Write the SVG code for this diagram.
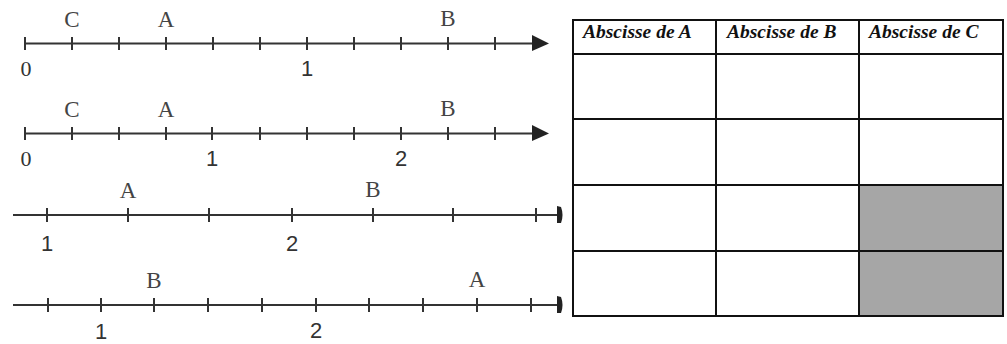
<svg xmlns="http://www.w3.org/2000/svg" width="1007" height="344" viewBox="0 0 1007 344">
<style>
.axis{stroke:#333;stroke-width:2.2;fill:none}
.tick{stroke:#333;stroke-width:2;fill:none}
.lbl{font-family:"Liberation Serif",serif;font-size:23px;fill:#444;text-anchor:middle}
.num{font-family:"Liberation Sans",sans-serif;font-size:22px;fill:#333;text-anchor:middle}
.zero{font-family:"Liberation Serif",serif;font-size:22px;fill:#333;text-anchor:middle}
.hd{font-family:"Liberation Serif",serif;font-size:19.5px;font-weight:bold;font-style:italic;fill:#111}
.cell{fill:#fff;stroke:#111;stroke-width:2}
.gray{fill:#a6a6a6;stroke:#111;stroke-width:2}
</style>
<rect width="1007" height="344" fill="#fff"/>
<g id="connectors">
<path class="axis" d="M25 43.5H536"/>
<polygon points="532,35 549,43.5 532,51" fill="#222"/>
<path class="axis" d="M25 133.5H536"/>
<polygon points="532,125 549,133.5 532,141" fill="#222"/>
<path class="axis" d="M13 215H558"/>
<path d="M557 206 L561 207 Q564 215 561 223 L557 223 Z" fill="#222"/>
<path class="axis" d="M13 305H558"/>
<path d="M557 296 L561 297 Q564 305 561 313 L557 313 Z" fill="#222"/>
</g>
<g id="line1">
<path class="tick" d="M25 37V50M72 37V50M119 37V50M166 37V50M213 37V50M260 37V50M307 37V50M354 37V50M401 37V50M448 37V50M495 37V50"/>
<text class="lbl" x="72" y="27">C</text>
<text class="lbl" x="166" y="27">A</text>
<text class="lbl" x="448" y="26">B</text>
<text class="zero" x="26" y="76">0</text>
<text class="num" x="307" y="76">1</text>
</g>
<g id="line2">
<path class="tick" d="M25 127V140M72 127V140M119 127V140M166 127V140M212 127V140M260 127V140M307 127V140M354 127V140M401 127V140M448 127V140M495 127V140"/>
<text class="lbl" x="72" y="117">C</text>
<text class="lbl" x="166" y="117">A</text>
<text class="lbl" x="448" y="116">B</text>
<text class="zero" x="26" y="166">0</text>
<text class="num" x="212" y="166">1</text>
<text class="num" x="401" y="166">2</text>
</g>
<g id="line3">
<path class="tick" d="M47 208V222M128 208V222M209 208V222M292 208V222M373 208V222M453 208V222M536 208V222"/>
<text class="lbl" x="128" y="198">A</text>
<text class="lbl" x="373" y="197">B</text>
<text class="num" x="47" y="251">1</text>
<text class="num" x="292" y="251">2</text>
</g>
<g id="line4">
<path class="tick" d="M48 298V312M101 298V312M154 298V312M208 298V312M262 298V312M316 298V312M369 298V312M423 298V312M477 298V312M531 298V312"/>
<text class="lbl" x="154" y="288">B</text>
<text class="lbl" x="477" y="287">A</text>
<text class="num" x="101" y="339">1</text>
<text class="num" x="316" y="338">2</text>
</g>
<g id="table">
<rect class="cell" x="573" y="20" width="143" height="34"/>
<rect class="cell" x="716" y="20" width="143" height="34"/>
<rect class="cell" x="859" y="20" width="144" height="34"/>
<rect class="cell" x="573" y="54" width="143" height="65"/>
<rect class="cell" x="716" y="54" width="143" height="65"/>
<rect class="cell" x="859" y="54" width="144" height="65"/>
<rect class="cell" x="573" y="119" width="143" height="66"/>
<rect class="cell" x="716" y="119" width="143" height="66"/>
<rect class="cell" x="859" y="119" width="144" height="66"/>
<rect class="cell" x="573" y="185" width="143" height="66"/>
<rect class="cell" x="716" y="185" width="143" height="66"/>
<rect class="gray" x="859" y="185" width="144" height="66"/>
<rect class="cell" x="573" y="251" width="143" height="65"/>
<rect class="cell" x="716" y="251" width="143" height="65"/>
<rect class="gray" x="859" y="251" width="144" height="65"/>
<text class="hd" x="583" y="38">Abscisse de A</text>
<text class="hd" x="727" y="38">Abscisse de B</text>
<text class="hd" x="869" y="38">Abscisse de C</text>
</g>
</svg>
